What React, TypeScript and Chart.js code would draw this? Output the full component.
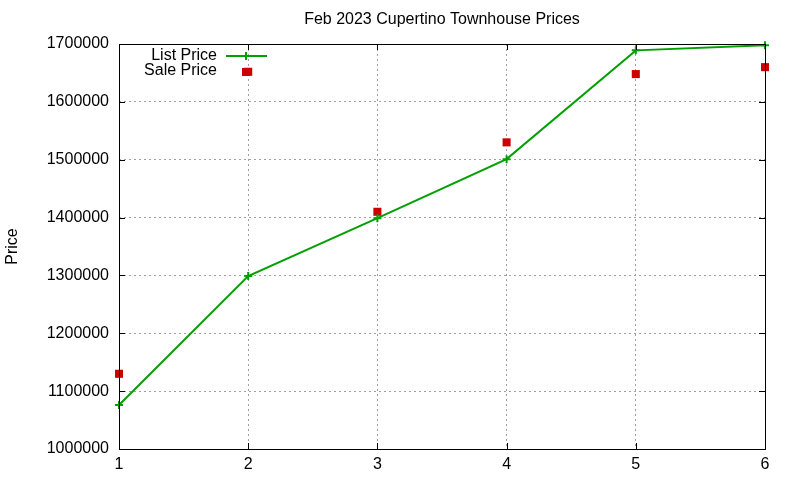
import { useEffect, useRef } from "react";
import { Chart, registerables } from "chart.js";

Chart.register(...registerables);

const titleText = "Feb 2023 Cupertino Townhouse Prices";
const xValues = [1, 2, 3, 4, 5, 6];
const listPrices = [1076000, 1299000, 1399000, 1501000, 1689000, 1698000];
const salePrices = [1130000, 1652000, 1410000, 1530000, 1648000, 1660000];

const FONT = "'Liberation Sans', Arial, sans-serif";
const GREEN = "#00a000";
const RED = "#cc0000";

// gnuplot-like frame: border box, inward ticks, title, legend
const framePlugin = {
  id: "frame",
  afterDatasetsDraw(chart: any) {
    const { ctx, chartArea: a, scales } = chart;
    ctx.save();
    ctx.strokeStyle = "#000";
    ctx.lineWidth = 1;
    ctx.strokeRect(a.left + 0.5, a.top + 0.5, a.right - a.left, a.bottom - a.top);
    ctx.beginPath();
    scales.x.ticks.forEach((t: any) => {
      const px = Math.round(scales.x.getPixelForValue(t.value)) + 0.5;
      ctx.moveTo(px, a.bottom);
      ctx.lineTo(px, a.bottom - 6);
      ctx.moveTo(px, a.top);
      ctx.lineTo(px, a.top + 6);
    });
    scales.y.ticks.forEach((t: any) => {
      const py = Math.round(scales.y.getPixelForValue(t.value)) + 0.5;
      ctx.moveTo(a.left, py);
      ctx.lineTo(a.left + 6, py);
      ctx.moveTo(a.right, py);
      ctx.lineTo(a.right - 6, py);
    });
    ctx.stroke();

    // title
    ctx.fillStyle = "#000";
    ctx.font = `16px ${FONT}`;
    ctx.textAlign = "center";
    ctx.textBaseline = "middle";
    ctx.fillText(titleText, (a.left + a.right) / 2, 20);

    // legend
    ctx.textAlign = "right";
    const ds = chart.data.datasets;
    const sx = 246;
    ctx.fillText(ds[0].label, 217, 56);
    ctx.strokeStyle = GREEN;
    ctx.lineWidth = 2;
    ctx.beginPath();
    ctx.moveTo(226, 56);
    ctx.lineTo(267, 56);
    ctx.moveTo(sx, 52);
    ctx.lineTo(sx, 60);
    ctx.stroke();
    ctx.fillStyle = "#000";
    ctx.fillText(ds[1].label, 217, 71);
    ctx.fillStyle = RED;
    ctx.fillRect(sx - 4, 68, 8, 8);
    ctx.restore();
  },
};

const App = () => {
  const canvasRef = useRef<HTMLCanvasElement>(null);

  useEffect(() => {
    document.body.style.margin = "0";
    if (!canvasRef.current) return;
    const chart = new Chart(canvasRef.current, {
      type: "scatter",
      data: {
        datasets: [
          {
            label: "List Price",
            data: xValues.map((x, i) => ({ x, y: listPrices[i] })),
            showLine: true,
            borderColor: GREEN,
            backgroundColor: GREEN,
            borderWidth: 2,
            pointStyle: "cross",
            pointRadius: 4,
            pointBorderWidth: 2,
            clip: false,
          },
          {
            label: "Sale Price",
            data: xValues.map((x, i) => ({ x, y: salePrices[i] })),
            showLine: false,
            borderColor: RED,
            backgroundColor: RED,
            pointStyle: "rect",
            pointRadius: 5.7,
            pointBorderWidth: 0,
            clip: false,
          },
        ],
      },
      options: {
        animation: false,
        responsive: false,
        layout: { padding: { top: 44, right: 35, left: 0, bottom: 0 } },
        plugins: {
          legend: { display: false },
          title: { display: false },
          tooltip: { enabled: false },
        },
        scales: {
          x: {
            type: "linear",
            min: 1,
            max: 6,
            border: { display: false, dash: [2, 3] },
            grid: { color: "#a0a0a0", drawTicks: false },
            ticks: {
              stepSize: 1,
              padding: 6,
              color: "#000",
              font: { family: FONT, size: 16 },
            },
            afterFit: (s: any) => {
              s.height = 31;
            },
          },
          y: {
            min: 1000000,
            max: 1700000,
            border: { display: false, dash: [2, 3] },
            grid: { color: "#a0a0a0", drawTicks: false },
            ticks: {
              stepSize: 100000,
              padding: 10,
              color: "#000",
              font: { family: FONT, size: 16 },
              callback: (v: any) => String(v),
            },
            title: {
              display: true,
              text: "Price",
              color: "#000",
              font: { family: FONT, size: 16 },
              padding: { top: 3, bottom: 0 },
            },
            afterFit: (s: any) => {
              s.width = 119;
            },
          },
        },
      },
      plugins: [framePlugin],
    });
    return () => {
      chart.destroy();
    };
  }, []);

  return (
    <div style={{ width: 800, height: 480 }}>
      <canvas ref={canvasRef} width={800} height={480}></canvas>
    </div>
  );
};

export default App;
